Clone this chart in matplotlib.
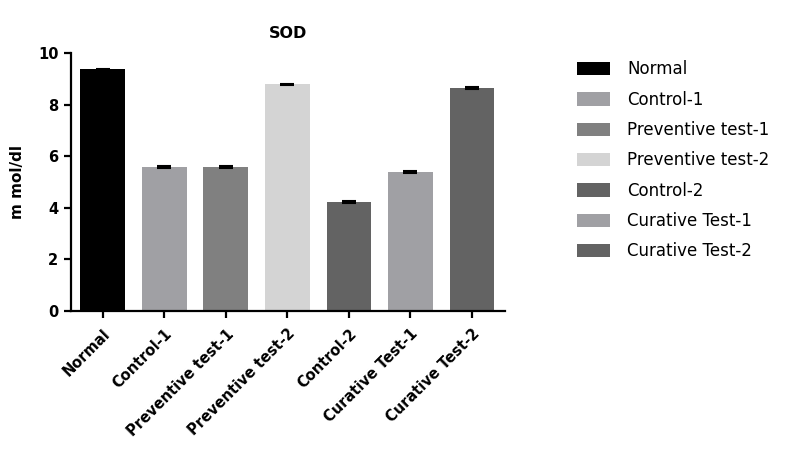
import matplotlib.pyplot as plt
from matplotlib.patches import Patch

groups = ['Normal', 'Control-1', 'Preventive test-1', 'Preventive test-2',
          'Control-2', 'Curative Test-1', 'Curative Test-2']
sod_mean = [9.37, 5.58, 5.58, 8.79, 4.22, 5.40, 8.64]
sod_err = [0.03, 0.03, 0.03, 0.03, 0.03, 0.03, 0.03]
bar_colors = ['#000000', '#a0a0a4', '#808080', '#d4d4d4',
              '#636363', '#a0a0a4', '#636363']

plt.rcParams['font.family'] = 'DejaVu Sans'

fig = plt.figure(figsize=(7.87, 4.54), dpi=100)
ax = fig.add_axes([0.090, 0.315, 0.552, 0.568])

x = range(len(groups))
ax.bar(x, sod_mean, width=0.73, color=bar_colors, zorder=2)
ax.errorbar(x, sod_mean, yerr=sod_err, fmt='none', ecolor='black',
            elinewidth=1.5, capsize=5, capthick=1.5, zorder=3)

ax.set_xlim(-0.52, 6.54)
ax.set_ylim(0, 10)
ax.set_yticks([0, 2, 4, 6, 8, 10])
ax.set_xticks(list(x))
ax.set_xticklabels(groups, rotation=45, ha='right', rotation_mode='anchor',
                   fontsize=10.5, fontweight='bold')
for lbl in ax.get_yticklabels():
    lbl.set_fontweight('bold')
    lbl.set_fontsize(10.5)

for side in ['top', 'right']:
    ax.spines[side].set_visible(False)
for side in ['left', 'bottom']:
    ax.spines[side].set_linewidth(1.6)
ax.tick_params(axis='both', direction='out', length=5, width=1.6, pad=4)
ax.tick_params(axis='x', pad=6)

ax.set_ylabel('m mol/dl', fontsize=11, fontweight='bold', labelpad=9)
ax.set_title('SOD', fontsize=11.5, fontweight='bold', pad=11)

handles = [Patch(facecolor=c, edgecolor='none') for c in bar_colors]
fig.legend(handles, groups, loc='upper left', bbox_to_anchor=(0.714, 0.90),
           frameon=False, fontsize=12, handlelength=2.0, handleheight=0.85,
           labelspacing=0.74, handletextpad=1.0)

fig.savefig('out.png', dpi=100)
